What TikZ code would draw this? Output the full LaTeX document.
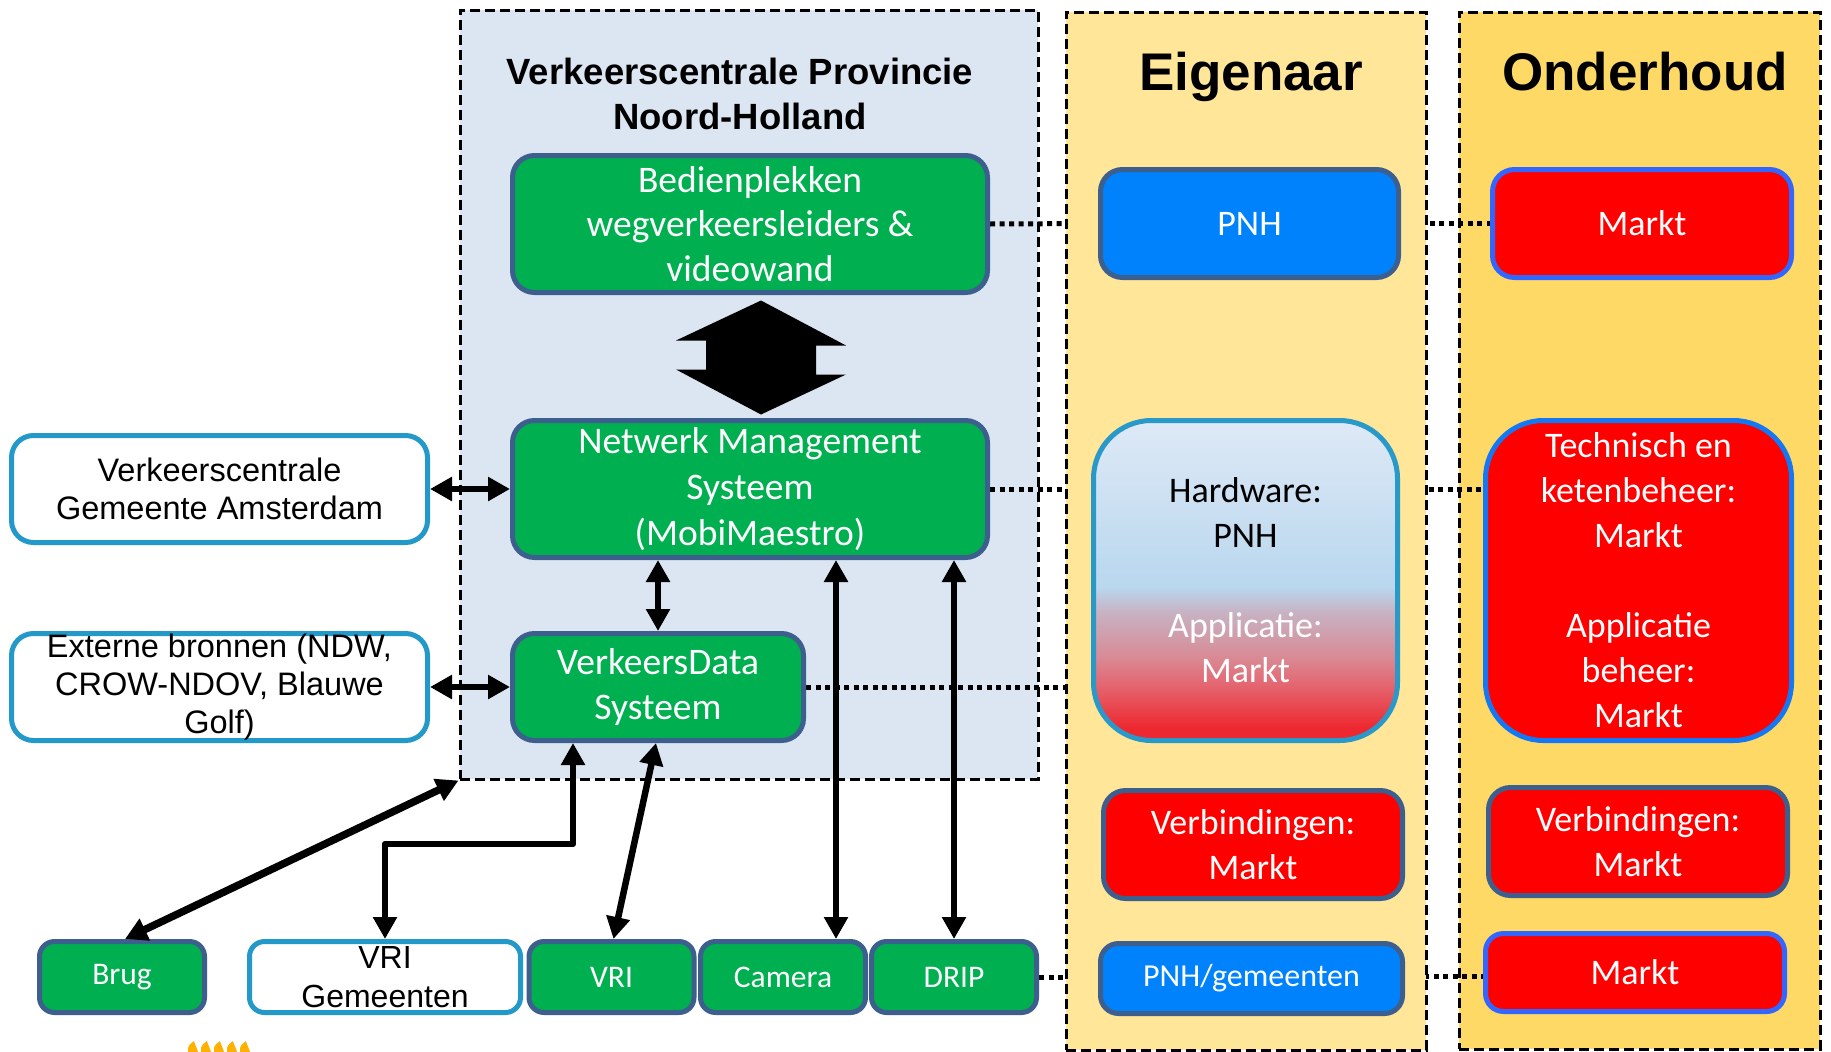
\documentclass[tikz,border=0pt]{standalone}
\usepackage{fontspec}
\setmainfont{Carlito}
\newfontfamily\arialf{Liberation Sans}
\usetikzlibrary{arrows.meta,calc}
\definecolor{mygreen}{HTML}{00B050}
\definecolor{gborder}{HTML}{3C5F8E}
\definecolor{lblue}{HTML}{2399CA}
\definecolor{vcfill}{HTML}{DCE6F2}
\definecolor{eigfill}{HTML}{FFE699}
\definecolor{ondfill}{HTML}{FFD966}
\definecolor{pnhblue}{HTML}{0082FC}
\definecolor{myred}{HTML}{FF0000}
\definecolor{mborder}{HTML}{3366FF}
\definecolor{techborder}{HTML}{1478F5}
\definecolor{hwborder}{HTML}{2899C8}
\definecolor{orng}{HTML}{FFB000}
\definecolor{hwca}{HTML}{EE2830}
\definecolor{hwcb}{HTML}{E5606A}
\definecolor{hwcc}{HTML}{D98A95}
\definecolor{hwcd}{HTML}{C7B2C3}
\definecolor{hwce}{HTML}{B9D7EE}
\definecolor{hwcf}{HTML}{DEE9F6}
\pgfdeclareverticalshading{hwshade}{100bp}{color(0bp)=(hwca); color(27bp)=(hwca); color(33bp)=(hwcb); color(38bp)=(hwcc); color(45bp)=(hwcd); color(49bp)=(hwce); color(75bp)=(hwcf); color(100bp)=(hwcf)}
\pgfdeclarelayer{bg}
\pgfdeclarelayer{dots}
\pgfdeclarelayer{eig}
\pgfsetlayers{bg,dots,eig,main}
\begin{document}
\begin{tikzpicture}[x=1pt,y=-1pt,
  box/.style={draw, line width=5pt, rounded corners=22pt, align=center, inner sep=0pt},
  greenbox/.style={box, fill=mygreen, draw=gborder, text=white, font=\fontsize{37.5}{44.5}\selectfont},
  smallgreen/.style={box, rounded corners=15pt, fill=mygreen, draw=gborder, text=white, font=\fontsize{31.5}{36}\selectfont, minimum width=165pt, minimum height=71pt},
  whitebox/.style={box, fill=white, draw=lblue, text=black, font=\arialf\fontsize{32.5}{38}\selectfont},
  bluebox/.style={box, fill=pnhblue, draw=gborder, text=white, font=\fontsize{36}{45}\selectfont},
  redbox/.style={box, fill=myred, draw=gborder, text=white, font=\fontsize{36}{45}\selectfont},
  column/.style={draw=black, line width=3pt, dash pattern=on 10pt off 5pt},
  dotline/.style={draw=black, line width=5pt, dash pattern=on 5pt off 4.5pt},
  arr/.style={draw=black, line width=6.5pt, line join=round, {Triangle[length=22pt,width=23pt]}-{Triangle[length=22pt,width=23pt]}},
  coltitle/.style={font=\arialf\bfseries\fontsize{53}{60}\selectfont, anchor=base}
]
\useasboundingbox (0,0) rectangle (1831,1052);

% containers (below the dotted connectors)
\begin{pgfonlayer}{bg}
\node[column, fill=vcfill, minimum width=578pt, minimum height=769pt, inner sep=0pt] (vc) at (749,394.5) {};
\node[column, fill=ondfill, minimum width=361pt, minimum height=1037pt, inner sep=0pt] (ond) at (1639.5,530.5) {};
\end{pgfonlayer}

% titles
\node[font=\arialf\bfseries\fontsize{36.5}{45}\selectfont, align=center] (vctitle) at (740,94) {Verkeerscentrale Provincie\\Noord-Holland};
\node[coltitle] (eigt) at (1251,90) {Eigenaar};
\node[coltitle] (ondt) at (1645,90) {Onderhoud};

% VC boxes
\node[greenbox, minimum width=475pt, minimum height=137pt] (bed) at (750,224) {Bedienplekken\\wegverkeersleiders \&\\videowand};
\node[greenbox, font=\fontsize{37.5}{46}\selectfont, minimum width=475pt, minimum height=137pt] (nms) at (750,489) {Netwerk Management\\Systeem\\(MobiMaestro)};
\node[greenbox, minimum width=291pt, minimum height=107pt] (vds) at (658,687) {VerkeersData\\Systeem};

% left boxes
\node[whitebox, minimum width=416pt, minimum height=107pt] (ams) at (219.5,489) {Verkeerscentrale\\Gemeente Amsterdam};
\node[whitebox, minimum width=416pt, minimum height=107pt] (ext) at (219.5,687) {Externe bronnen (NDW,\\CROW-NDOV, Blauwe\\Golf)};

% bottom row
\node[smallgreen] (brug) at (122,977) {Brug};
\node[whitebox, rounded corners=15pt, font=\arialf\fontsize{32}{39}\selectfont, minimum width=271pt, minimum height=71pt] (vrigem) at (385,977) {VRI\\Gemeenten};
\node[smallgreen] (vri) at (611.5,977) {VRI};
\node[smallgreen] (cam) at (783,977) {Camera};
\node[smallgreen] (drip) at (954,977) {DRIP};

% Eigenaar column boxes
\node[bluebox, minimum width=298pt, minimum height=108pt] (pnh) at (1249.5,223.5) {PNH};
\node[box, rounded corners=58pt, draw=hwborder, shade, shading=hwshade, font=\fontsize{36}{45}\selectfont, minimum width=304pt, minimum height=320pt] (hw) at (1245.5,580.5) {Hardware:\\PNH\\[45pt]\textcolor{white}{Applicatie:}\\\textcolor{white}{Markt}};
\node[redbox, minimum width=299pt, minimum height=108pt] (verbe) at (1253,844.5) {Verbindingen:\\Markt};
\node[bluebox, rounded corners=18pt, font=\fontsize{32}{40}\selectfont, minimum width=302pt, minimum height=70pt] (pnhgem) at (1251.5,978.5) {PNH/gemeenten};

% Onderhoud column boxes
\node[redbox, draw=mborder, minimum width=299pt, minimum height=108pt] (markta) at (1642,223.5) {Markt};
\node[redbox, draw=techborder, rounded corners=58pt, minimum width=306pt, minimum height=320pt] (tech) at (1638.5,580.5) {Technisch en\\ketenbeheer:\\Markt\\[45pt]Applicatie\\beheer:\\Markt};
\node[redbox, minimum width=299pt, minimum height=108pt] (verbo) at (1638,841.5) {Verbindingen:\\Markt};
\node[redbox, draw=mborder, rounded corners=18pt, minimum width=299pt, minimum height=78pt] (marktb) at (1635,972.5) {Markt};

% Eigenaar column (above dotted lines)
\begin{pgfonlayer}{eig}
\node[column, fill=eigfill, minimum width=360pt, minimum height=1038pt, inner sep=0pt] (eig) at (1246,531) {};
\end{pgfonlayer}

% dotted connectors
\begin{pgfonlayer}{dots}
\draw[dotline] (bed.east) -- (pnh.west);
\draw[dotline] (pnh.east) -- (markta.west);
\draw[dotline] (nms.east) -- (nms.east -| hw.west);
\draw[dotline] (nms.east -| hw.east) -- (nms.east -| tech.west);
\draw[dotline] (vds.east) -- (vds.east -| hw.west);
\draw[dotline] (drip.east) -- (drip.east -| pnhgem.west);
\draw[dotline] ([yshift=2pt]pnhgem.east) -- ([yshift=2pt]pnhgem.east -| marktb.west);
\end{pgfonlayer}

% block double arrow between bed and nms
\coordinate (bt) at ([xshift=11pt,yshift=-5.5pt]bed.south);
\coordinate (bb) at ([xshift=11pt,yshift=3.5pt]nms.north);
\fill[black] (bt) -- ++(85,45) -- ++(-30,0) -- ++(0,29) -- ++(30,0) -- (bb) -- ++(-85,-45) -- ++(30,0) -- ++(0,-29) -- ++(-30,0) -- cycle;

% arrows
\draw[arr] (ams.east) -- (nms.west);
\draw[arr] (ext.east) -- (vds.west);
\draw[arr, line width=6pt] (nms.south -| vds.north) -- (vds.north);
\draw[arr] ([xshift=53pt]cam.north |- nms.south) -- ([xshift=53pt]cam.north);
\draw[arr] (drip.north |- nms.south) -- (drip.north);
\draw[arr] ([xshift=-2pt]vds.south) -- ([xshift=2pt]vri.north);
\draw[arr] ([xshift=-85pt]vds.south) -- ++(0,101) -| (vrigem.north);
\draw[arr, line width=7.5pt] (vc.south west) -- ([xshift=3pt]brug.north);

% orange fragment at bottom edge
\foreach \px in {193,206,219,232,245}{
  \fill[orng] (\px-5,1052) -- (\px-5,1048) .. controls (\px-4,1044) and (\px-1,1043) .. (\px+1,1041) .. controls (\px+2,1045) and (\px+4,1048) .. (\px+5,1052) -- cycle;
}
\end{tikzpicture}
\end{document}
